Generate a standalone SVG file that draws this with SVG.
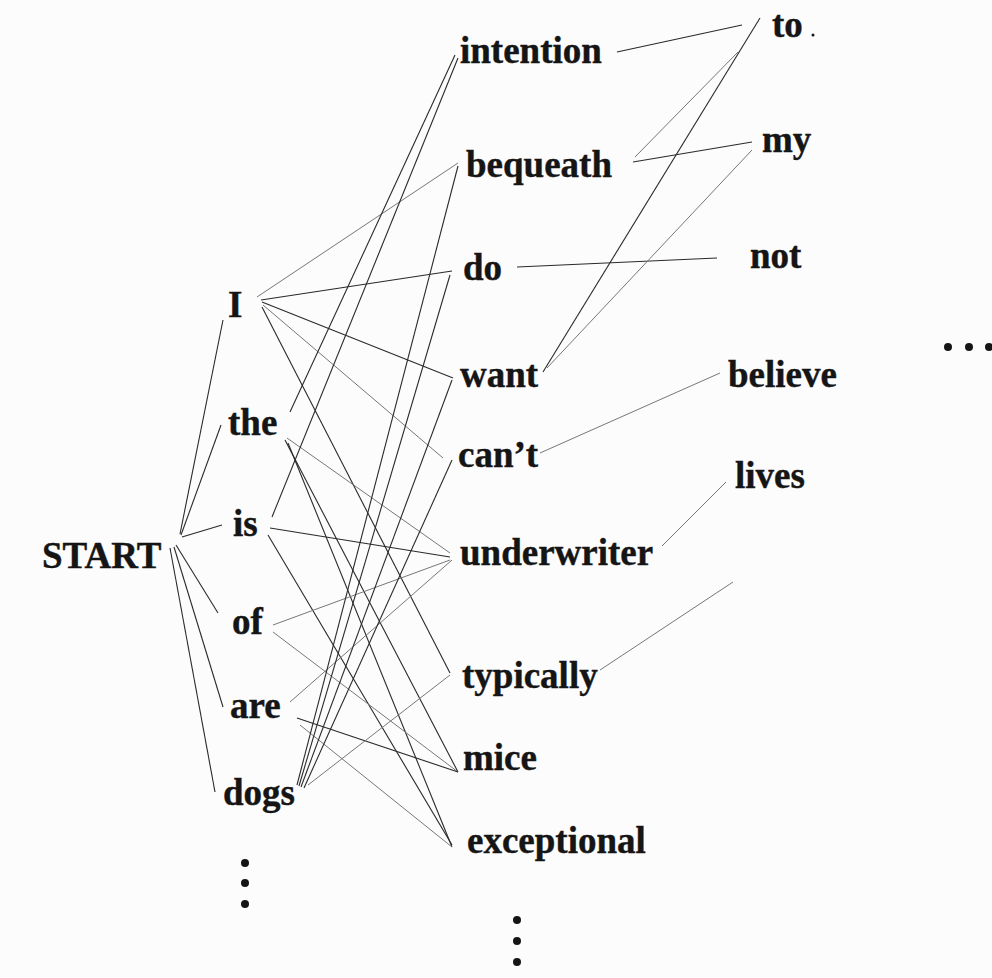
<svg xmlns="http://www.w3.org/2000/svg" width="992" height="978" viewBox="0 0 992 978">
<style>
.w{font-family:"Liberation Serif","Times New Roman",serif;font-weight:bold;font-size:37px;fill:#151515;stroke:#151515;stroke-width:0.4}
.e{stroke:#2a2a2a;stroke-width:1.1;fill:none}
.f{stroke:#777;stroke-width:1;fill:none}
.d{fill:#151515}
</style>
<rect width="992" height="978" fill="#fcfcfc"/>
<g id="connectors">
<line class="e" x1="180" y1="534" x2="223" y2="320"/>
<line class="e" x1="181" y1="535" x2="221" y2="425"/>
<line class="e" x1="182" y1="537" x2="222" y2="525"/>
<line class="e" x1="176" y1="545" x2="218" y2="613"/>
<line class="e" x1="174" y1="547" x2="223" y2="707"/>
<line class="e" x1="170" y1="548" x2="215" y2="792"/>
<line class="f" x1="257" y1="297" x2="458" y2="163"/>
<line class="e" x1="261" y1="300" x2="452" y2="271"/>
<line class="e" x1="262" y1="302" x2="453" y2="378"/>
<line class="f" x1="263" y1="305" x2="443" y2="458"/>
<line class="e" x1="262" y1="307" x2="450" y2="673"/>
<line class="e" x1="290" y1="412" x2="455" y2="55"/>
<line class="f" x1="287" y1="438" x2="450" y2="553"/>
<line class="e" x1="285" y1="440" x2="458" y2="772"/>
<line class="e" x1="288" y1="443" x2="452" y2="847"/>
<line class="e" x1="272" y1="517" x2="458" y2="58"/>
<line class="e" x1="270" y1="528" x2="450" y2="557"/>
<line class="e" x1="268" y1="535" x2="452" y2="845"/>
<line class="f" x1="273" y1="625" x2="450" y2="560"/>
<line class="f" x1="273" y1="632" x2="458" y2="772"/>
<line class="f" x1="290" y1="702" x2="452" y2="560"/>
<line class="e" x1="297" y1="718" x2="458" y2="772"/>
<line class="f" x1="300" y1="725" x2="452" y2="847"/>
<line class="e" x1="297" y1="785" x2="458" y2="166"/>
<line class="e" x1="299" y1="786" x2="450" y2="275"/>
<line class="e" x1="301" y1="787" x2="452" y2="380"/>
<line class="e" x1="304" y1="788" x2="452" y2="460"/>
<line class="f" x1="308" y1="785" x2="450" y2="675"/>
<line class="e" x1="617" y1="52" x2="742" y2="25"/>
<line class="f" x1="635" y1="157" x2="738" y2="52"/>
<line class="e" x1="633" y1="162" x2="752" y2="142"/>
<line class="e" x1="517" y1="267" x2="717" y2="258"/>
<line class="e" x1="543" y1="372" x2="760" y2="18"/>
<line class="f" x1="547" y1="368" x2="752" y2="150"/>
<line class="f" x1="540" y1="453" x2="720" y2="373"/>
<line class="f" x1="662" y1="546" x2="726" y2="482"/>
<line class="f" x1="600" y1="670" x2="733" y2="582"/>
</g>
<g id="n-start"><text class="w" x="42" y="568">START</text></g>
<g id="n-I"><text class="w" x="228" y="317">I</text></g>
<g id="n-the"><text class="w" x="228" y="435">the</text></g>
<g id="n-is"><text class="w" x="233" y="536">is</text></g>
<g id="n-of"><text class="w" x="232" y="634">of</text></g>
<g id="n-are"><text class="w" x="230" y="718">are</text></g>
<g id="n-dogs"><text class="w" x="223" y="805">dogs</text></g>
<g id="n-dots1"><circle class="d" cx="245" cy="863" r="4"/><circle class="d" cx="245" cy="883" r="4"/><circle class="d" cx="245" cy="904" r="4"/></g>
<g id="n-intention"><text class="w" x="460" y="63">intention</text></g>
<g id="n-bequeath"><text class="w" x="466" y="177">bequeath</text></g>
<g id="n-do"><text class="w" x="463" y="280">do</text></g>
<g id="n-want"><text class="w" x="460" y="387">want</text></g>
<g id="n-cant"><text class="w" x="458" y="467">can’t</text></g>
<g id="n-underwriter"><text class="w" x="460" y="565">underwriter</text></g>
<g id="n-typically"><text class="w" x="462" y="688">typically</text></g>
<g id="n-mice"><text class="w" x="463" y="770">mice</text></g>
<g id="n-exceptional"><text class="w" x="467" y="853">exceptional</text></g>
<g id="n-dots2"><circle class="d" cx="517" cy="920" r="4"/><circle class="d" cx="517" cy="941" r="4"/><circle class="d" cx="517" cy="962" r="4"/></g>
<g id="n-to"><text class="w" x="772" y="37">to</text><circle class="d" cx="813" cy="35" r="1.5"/></g>
<g id="n-my"><text class="w" x="762" y="152">my</text></g>
<g id="n-not"><text class="w" x="750" y="268">not</text></g>
<g id="n-believe"><text class="w" x="728" y="387">believe</text></g>
<g id="n-lives"><text class="w" x="735" y="488">lives</text></g>
<g id="n-dots3"><circle class="d" cx="948" cy="347" r="4"/><circle class="d" cx="969" cy="347" r="4"/><circle class="d" cx="989" cy="347" r="4"/></g>
</svg>
